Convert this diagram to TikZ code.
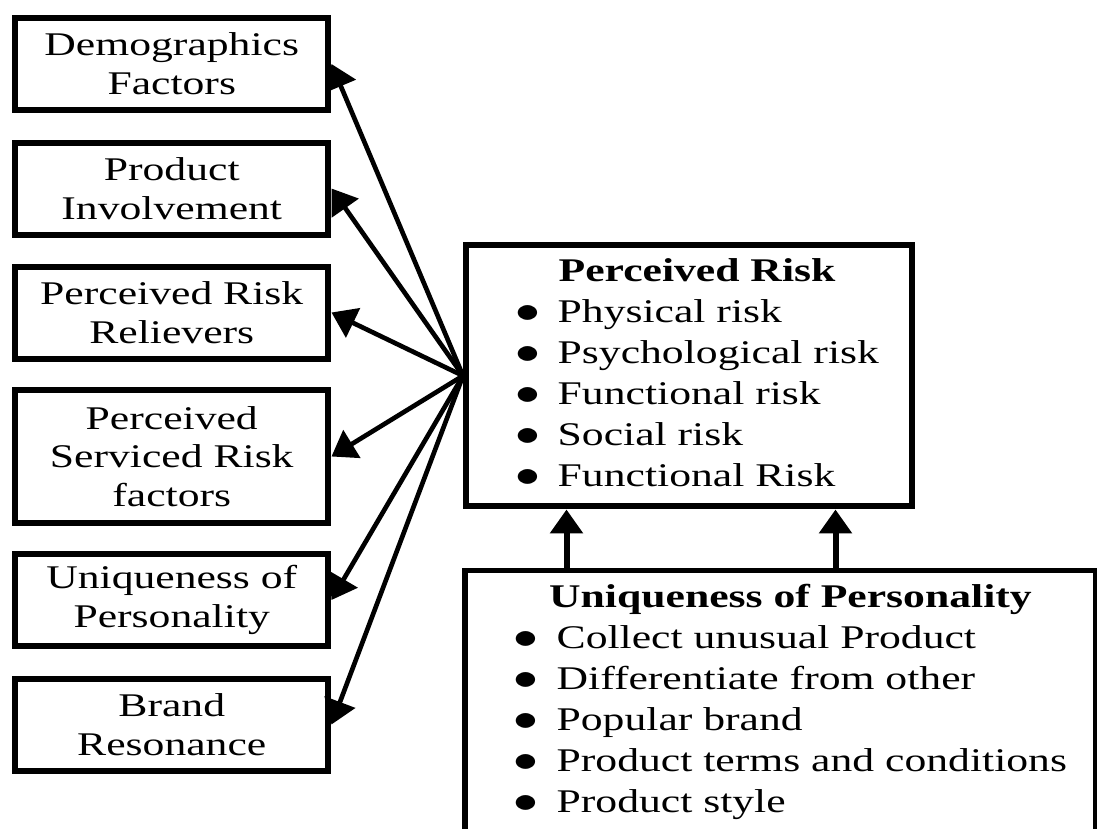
\documentclass[tikz,border=0pt]{standalone}
\usepackage{fontspec}
\setmainfont{Liberation Serif}[FakeStretch=1.32]
\usetikzlibrary{arrows.meta}
\newcommand{\itm}[1]{\makebox[32pt][l]{\scalebox{1.5}[1.15]{$\bullet$}}#1}
\begin{document}
\begin{tikzpicture}[>={Triangle[width=24pt,length=18pt]}, x=0.75pt, y=-0.75pt,
 box/.style={draw, line width=4.5pt, minimum width=235.1pt, minimum height=69pt, inner sep=0pt, align=center, font=\fontsize{24.8pt}{29pt}\selectfont},
 lst/.style={draw, inner sep=0pt, font=\fontsize{24.8pt}{30.75pt}\selectfont}]
 \useasboundingbox (0,0) rectangle (1097,829);
 \node[box] (dem) at (171.75,64) {Demographics\\Factors};
 \node[box] (inv) at (171.75,188.5) {Product\\Involvement};
 \node[box] (rel) at (171.75,312.5) {Perceived Risk\\Relievers};
 \node[box, minimum height=99.75pt] (ser) at (171.75,456.5) {Perceived\\Serviced Risk\\factors};
 \node[box] (uni) at (171.75,600) {Uniqueness of\\Personality};
 \node[box] (bra) at (171.75,724.5) {Brand\\Resonance};
 \node[lst, line width=4.5pt, minimum width=334.5pt, minimum height=196.1pt] (pr) at (689,375.75) {\hspace{12pt}\begin{tabular}{@{}l@{}}
  \multicolumn{1}{c}{\bfseries Perceived Risk}\\
  \itm{Physical risk}\\ \itm{Psychological risk}\\ \itm{Functional risk}\\ \itm{Social risk}\\ \itm{Functional Risk}
 \end{tabular}};
 \node[lst, line width=4pt, minimum width=473.25pt, minimum height=196.5pt] (ub) at (780.5,701.5) {\hspace{15pt}\begin{tabular}{@{}l@{}}
  \multicolumn{1}{c}{\bfseries Uniqueness of Personality}\\
  \itm{Collect unusual Product}\\ \itm{Differentiate from other}\\ \itm{Popular brand}\\ \itm{Product terms and conditions}\\ \itm{Product style}
 \end{tabular}};
 \foreach \n in {dem,inv,rel,ser,uni,bra}
  \draw[->, line width=3.5pt] (pr.west) -- (\n.east);
 \draw[->, line width=4.5pt] (566.5,0 |- ub.north) -- (566.5,0 |- pr.south);
 \draw[->, line width=4.5pt] (835.5,0 |- ub.north) -- (835.5,0 |- pr.south);
\end{tikzpicture}
\end{document}
